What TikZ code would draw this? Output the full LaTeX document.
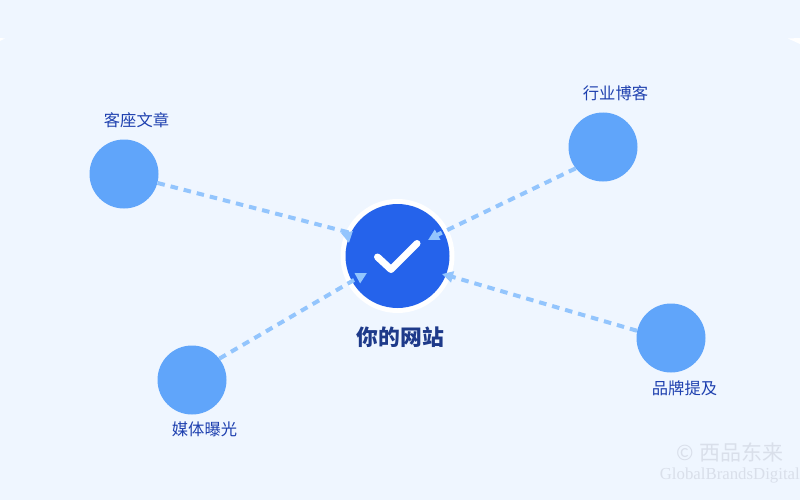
\documentclass[tikz,border=0pt]{standalone}
\usepackage{fontspec}
\setmainfont{Noto Sans CJK SC}
\newfontfamily\markfont{Liberation Serif}
\usetikzlibrary{arrows.meta}
\definecolor{pagebg}{HTML}{EFF6FF}
\definecolor{mainblue}{HTML}{2563EB}
\definecolor{sideblue}{HTML}{60A5FA}
\definecolor{linkblue}{HTML}{93C5FD}
\definecolor{labelblue}{HTML}{1E40AF}
\definecolor{titleblue}{HTML}{1E3A8A}
\definecolor{markgrey}{HTML}{D9DFEA}
\begin{document}
\begin{tikzpicture}[x=1pt,y=-1pt,
        side/.style = {circle,fill=sideblue,minimum size=69pt,inner sep=0pt},
        label/.style = {text=labelblue,font=\fontsize{16.3}{18}\selectfont,inner sep=0pt},
        link/.style = {draw=linkblue,line width=4pt,dash pattern=on 7.5pt off 6pt,
            -{Triangle[length=11pt,width=11pt]}}]
    \useasboundingbox (0,0) rectangle (800,500);
    \fill[pagebg] (0,0) rectangle (800,500);
    \fill[white] (0,38) -- (5,38.5) -- (0,41) -- cycle;
    \fill[white] (800,44) -- (788,38.5) -- (800,38) -- cycle;
    % centre
    \node[circle,fill=white,minimum size=114pt,inner sep=0pt] (ring) at (397.5,256) {};
    \node[circle,fill=mainblue,minimum size=104pt,inner sep=0pt] (site) at (397.5,256) {};
    \draw[white,line width=7pt,line cap=round,line join=round]
        (377.5,257) -- (391,269.5) -- (417,243.5);
    \node[text=titleblue,font=\fontsize{21.8}{24}\selectfont\bfseries,inner sep=0pt] (sitetext) at (400.5,337.5) {你的网站};
    % outer circles
    \node[side] (guest) at (124,174) {};
    \node[side] (blog) at (603,147) {};
    \node[side] (media) at (192,380) {};
    \node[side] (brand) at (671,338) {};
    \node[label] (guesttext) at (136.5,120.5) {客座文章};
    \node[label] (blogtext) at (615.5,93) {行业博客};
    \node[label] (mediatext) at (204.5,429) {媒体曝光};
    \node[label] (brandtext) at (684.5,388) {品牌提及};
    % links
    \coordinate (guestneck) at (347,232);
    \coordinate (guestend) at (349,243);
    \coordinate (blogneck) at (439,234);
    \coordinate (blogend) at (428,240);
    \coordinate (medianeck) at (354,280);
    \coordinate (mediaend) at (367,273);
    \coordinate (brandneck) at (453,277);
    \coordinate (brandend) at (442,274);
    \draw[link] (guest.345) -- (guestneck) -- (guestend);
    \draw[link] (blog.218) -- (blogneck) -- (blogend);
    \draw[link] (media.38) -- (medianeck) -- (mediaend);
    \draw[link] (brand.168) -- (brandneck) -- (brandend);
    % watermark
    \node[text=markgrey,font=\fontsize{21}{24}\selectfont,inner sep=0pt] (markcn) at (730,452) {© 西品东来};
    \node[text=markgrey,font=\markfont\fontsize{16.8}{18}\selectfont,inner sep=0pt,anchor=east] (marken) at (800,475) {GlobalBrandsDigital};
\end{tikzpicture}
\end{document}
